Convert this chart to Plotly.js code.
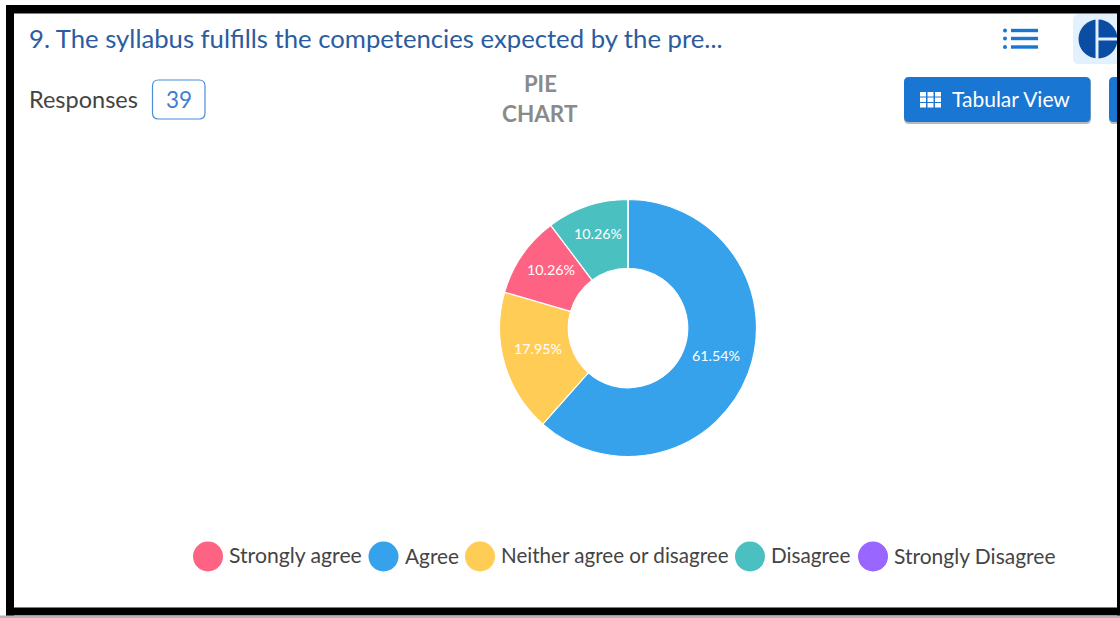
<!DOCTYPE html>
<html>
<head>
<meta charset="utf-8">
<script src="https://cdn.plot.ly/plotly-3.0.1.min.js"></script>
<style>html,body{margin:0;padding:0;background:#fff;overflow:hidden}#c{width:1120px;height:618px}</style>
</head>
<body>
<div id="c"></div>
<script>
// Data
const sliceLabels = ['Agree', 'Neither agree or disagree', 'Strongly agree', 'Disagree', 'Strongly Disagree'];
const sliceCounts = [24, 7, 4, 4, 0];
const sliceColors = ['#36A2EB', '#FFCD56', '#FF6384', '#4BC0C0', '#9966FF'];
const legendOrder = ['Strongly agree', 'Agree', 'Neither agree or disagree', 'Disagree', 'Strongly Disagree'];
const questionText = '9. The syllabus fulfills the competencies expected by the pre...';
const responseCount = '39';

const W = 1120, H = 618, FONT = 'Lato, "Noto Sans", sans-serif';
const rect = (x0, y0, x1, y1, color) => ({type:'rect', xref:'paper', yref:'paper', x0:x0/W, x1:x1/W, y0:1-y0/H, y1:1-y1/H, fillcolor:color, line:{width:0}, layer:'below'});
const circle = (cx, cy, r, color) => ({type:'circle', xref:'paper', yref:'paper', x0:(cx-r)/W, x1:(cx+r)/W, y0:1-(cy-r)/H, y1:1-(cy+r)/H, fillcolor:color, line:{width:0}, layer:'below'});
const rounded = (x0, y0, x1, y1, r, fill, stroke) => {
  const X = v => v/W, Y = v => 1-v/H;
  const p = `M${X(x0+r)},${Y(y0)} L${X(x1-r)},${Y(y0)} Q${X(x1)},${Y(y0)} ${X(x1)},${Y(y0+r)} L${X(x1)},${Y(y1-r)} Q${X(x1)},${Y(y1)} ${X(x1-r)},${Y(y1)} L${X(x0+r)},${Y(y1)} Q${X(x0)},${Y(y1)} ${X(x0)},${Y(y1-r)} L${X(x0)},${Y(y0+r)} Q${X(x0)},${Y(y0)} ${X(x0+r)},${Y(y0)} Z`;
  return {type:'path', xref:'paper', yref:'paper', path:p, fillcolor:fill, line:stroke?{color:stroke,width:1.2}:{width:0}, layer:'below'};
};
const text = (s, x, y, size, color, anchor, extra) => Object.assign({text:s, xref:'paper', yref:'paper', x:x/W, y:1-y/H, xanchor:anchor||'left', yanchor:'middle', showarrow:false, font:{family:FONT, size:size, color:color}}, extra||{});

const shapes = [], annotations = [];

// Header
annotations.push(text(questionText, 27, 38, 25.7, '#2b5c9f'));
annotations.push(text('Responses', 27, 99, 23.5, '#444444'));
shapes.push(rounded(152.5, 80, 205, 119, 6, '#ffffff', '#4a8edb'));
annotations.push(text(responseCount, 178.5, 99.5, 22.5, '#3f7fd0', 'center'));
annotations.push(text('<b>PIE</b>', 540, 83.5, 22, '#8a8a8a', 'center'));
annotations.push(text('<b>CHART</b>', 540, 113.5, 22.5, '#8a8a8a', 'center'));

// List icon
[30.5, 38.5, 47].forEach(y => {
  shapes.push(circle(1005, y, 2, '#1976d2'));
  shapes.push(rect(1011, y-1.7, 1038, y+1.7, '#1976d2'));
});

// Pie icon button
shapes.push(rounded(1073, 14, 1130, 64, 6, '#e3f0fd'));
shapes.push(circle(1098, 39, 19.5, '#0a4da3'));
shapes.push(rect(1095.5, 18, 1098.5, 60, '#e3f0fd'));
shapes.push(rect(1097, 37.5, 1120, 40.5, '#e3f0fd'));

// Buttons
shapes.push(rounded(904, 78, 1091, 124, 5, '#b8b8b8'));
shapes.push(rounded(904, 77, 1090.5, 122, 5, '#1976d2'));
shapes.push(rounded(1109, 78, 1130, 124, 5, '#b8b8b8'));
shapes.push(rounded(1109, 77, 1130, 122, 5, '#1976d2'));
[920, 927.5, 935].forEach(x => [92, 97.5, 103].forEach(y => shapes.push(rect(x, y, x+6, y+4.5, '#ffffff'))));
annotations.push(text('Tabular View', 950, 98.5, 21, '#ffffff'));

// Legend
const legendX = [208, 383.5, 480, 750, 873];
const legendTextX = [227, 402.5, 499, 769.5, 892];
const legendSize = [21.2, 20.8, 20.6, 20.7, 21];
legendOrder.forEach((name, i) => {
  const color = sliceColors[sliceLabels.indexOf(name)];
  shapes.push(circle(legendX[i], 556.5, 15, color));
  annotations.push(text(name, legendTextX[i], 555, legendSize[i], '#444444'));
});

// Screenshot frame
const K = '#000000';
shapes.push(Object.assign(rect(6, 5, 1120, 13.5, K), {layer:'above'}));
shapes.push(Object.assign(rect(6, 5, 14, 616, K), {layer:'above'}));
shapes.push(Object.assign(rect(6, 607.5, 1120, 615.5, K), {layer:'above'}));
shapes.push(Object.assign(rect(1117, 5, 1120, 616, K), {layer:'above'}));
shapes.push(Object.assign(rect(0, 615.5, 1120, 618, '#b5b5b5'), {layer:'above'}));

// Percentage labels sit at each slice's mid-angle, halfway through the ring
const total = sliceCounts.reduce((a, b) => a + b, 0);
const cx = 628, cy = 328, midR = 94, labelLift = 5.5;
let cumulative = 0;
sliceCounts.forEach(v => {
  const mid = (cumulative + v / 2) / total * 2 * Math.PI;
  cumulative += v;
  if (v > 0) {
    annotations.push(text((v / total * 100).toFixed(2) + '%', cx + midR * Math.sin(mid), cy - midR * Math.cos(mid) - labelLift, 14.3, '#ffffff', 'center'));
  }
});

const trace = {
  type:'pie', labels:sliceLabels, values:sliceCounts,
  marker:{colors:sliceColors, line:{color:'#ffffff', width:1.2}},
  hole:0.465, sort:false, direction:'clockwise', rotation:0,
  textinfo:'none',
  hoverinfo:'label+percent', showlegend:false,
  domain:{x:[499.5/W, 756.5/W], y:[(H-456.5)/H, (H-199.5)/H]}
};
Plotly.newPlot('c', [trace], {
  width:W, height:H, margin:{l:0,r:0,t:0,b:0}, paper_bgcolor:'#ffffff', showlegend:false,
  shapes:shapes, annotations:annotations
}, {displayModeBar:false, staticPlot:true});
</script>
</body>
</html>
